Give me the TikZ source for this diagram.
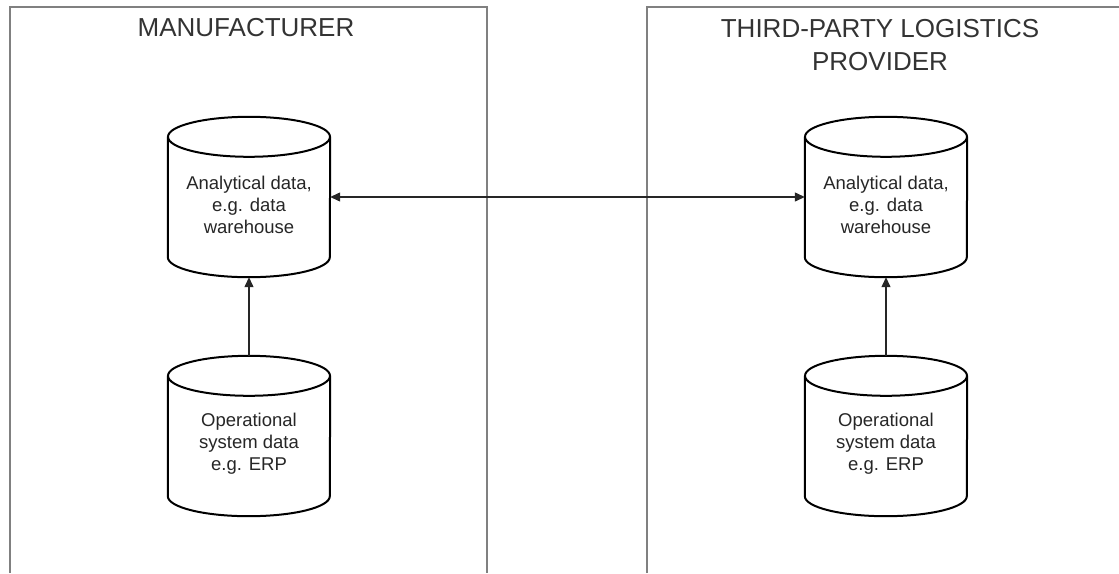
\documentclass[tikz,border=0pt]{standalone}
\usepackage{fontspec}
\setmainfont{Liberation Sans}
\usetikzlibrary{arrows.meta}
\tikzset{
  frameline/.style={draw=black!50, line width=2pt},
  cylbox/.style={inner sep=0pt, minimum width=162pt, minimum height=160pt},
  cylline/.style={draw=black, line width=2pt},
  cyltext/.style={align=center, text=black!85, font=\fontsize{18.5pt}{22pt}\selectfont, inner sep=0pt},
  titletext/.style={align=center, text=black!80, font=\fontsize{26pt}{33pt}\selectfont, inner sep=0pt},
  conn/.style={draw=black!85, line width=1.3pt, arrows={-Triangle[length=10pt,width=9pt]}},
  conn2/.style={draw=black!85, line width=1.3pt, arrows={Triangle[length=10pt,width=9pt]-Triangle[length=10pt,width=9pt]}}
}
\newcommand\drawcylinder[1]{%
  \draw[cylline] ([yshift=-20pt]#1.north) ellipse [x radius=81pt, y radius=20pt];
  \draw[cylline] ([yshift=-20pt]#1.north west) -- ([yshift=20pt]#1.south west)
     arc[start angle=180, end angle=360, x radius=81pt, y radius=20pt]
     -- ([yshift=-20pt]#1.north east);
}
\begin{document}
\begin{tikzpicture}[x=1pt,y=-1pt]
\useasboundingbox (0,0) rectangle (1119,573);
% frames
\draw[frameline] (10,573) -- (10,7) -- (487,7) -- (487,573);
\draw[frameline] (647,573) -- (647,7) -- (1119,7);
% titles
\node[titletext] (t1) at (246,28) {MANUFACTURER};
\node[titletext] (t2) at (880,45) {THIRD-PARTY LOGISTICS\\PROVIDER};
% cylinders
\node[cylbox] (an1) at (249,197) {};
\node[cylbox] (op1) at (249,436) {};
\node[cylbox] (an2) at (886,197) {};
\node[cylbox] (op2) at (886,436) {};
\drawcylinder{an1}
\drawcylinder{op1}
\drawcylinder{an2}
\drawcylinder{op2}
\node[cyltext] (an1t) at ([yshift=-8pt]an1.center) {Analytical data,\\e.g. data\\warehouse};
\node[cyltext] (an2t) at ([yshift=-8pt]an2.center) {Analytical data,\\e.g. data\\warehouse};
\node[cyltext] (op1t) at ([yshift=-8pt]op1.center) {Operational\\system data\\e.g. ERP};
\node[cyltext] (op2t) at ([yshift=-8pt]op2.center) {Operational\\system data\\e.g. ERP};
% connectors
\draw[conn2] (an1.east) -- (an2.west);
\draw[conn] (op1.north) -- (an1.south);
\draw[conn] (op2.north) -- (an2.south);
\end{tikzpicture}
\end{document}
